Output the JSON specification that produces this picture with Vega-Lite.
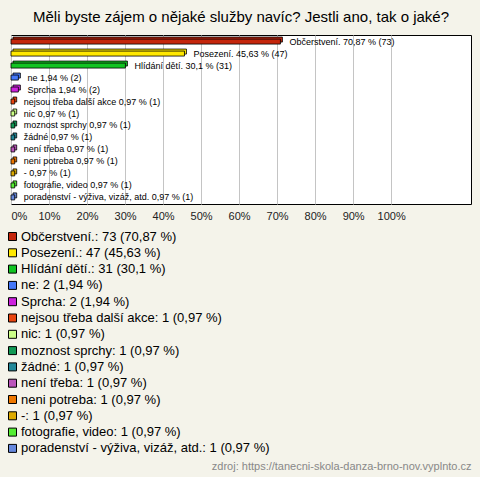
{
  "$schema": "https://vega.github.io/schema/vega-lite/v6.json",
  "autosize": "none",
  "width": 460,
  "height": 169,
  "padding": {"left": 11, "top": 35, "right": 9, "bottom": 273},
  "background": "#f4f3ea",
  "title": {"text": "Měli byste zájem o nějaké služby navíc? Jestli ano, tak o jaké?", "fontSize": 15, "fontWeight": "normal", "color": "#000000", "offset": 10, "anchor": "middle"},
  "config": {
    "font": "Liberation Sans",
    "view": {"fill": "#ffffff", "stroke": "#000000", "strokeWidth": 1}
  },
  "data": {"values": [
    {"order": 1, "cat": "Občerstvení.", "pct": 70.87, "legend": "Občerstvení.: 73 (70,87 %)", "barLabel": "Občerstvení. 70,87 % (73)"},
    {"order": 2, "cat": "Posezení.", "pct": 45.63, "legend": "Posezení.: 47 (45,63 %)", "barLabel": "Posezení. 45,63 % (47)"},
    {"order": 3, "cat": "Hlídání dětí.", "pct": 30.1, "legend": "Hlídání dětí.: 31 (30,1 %)", "barLabel": "Hlídání dětí. 30,1 % (31)"},
    {"order": 4, "cat": "ne", "pct": 1.94, "legend": "ne: 2 (1,94 %)", "barLabel": "ne 1,94 % (2)"},
    {"order": 5, "cat": "Sprcha", "pct": 1.94, "legend": "Sprcha: 2 (1,94 %)", "barLabel": "Sprcha 1,94 % (2)"},
    {"order": 6, "cat": "nejsou třeba další akce", "pct": 0.97, "legend": "nejsou třeba další akce: 1 (0,97 %)", "barLabel": "nejsou třeba další akce 0,97 % (1)"},
    {"order": 7, "cat": "nic", "pct": 0.97, "legend": "nic: 1 (0,97 %)", "barLabel": "nic 0,97 % (1)"},
    {"order": 8, "cat": "moznost sprchy", "pct": 0.97, "legend": "moznost sprchy: 1 (0,97 %)", "barLabel": "moznost sprchy 0,97 % (1)"},
    {"order": 9, "cat": "žádné", "pct": 0.97, "legend": "žádné: 1 (0,97 %)", "barLabel": "žádné 0,97 % (1)"},
    {"order": 10, "cat": "není třeba", "pct": 0.97, "legend": "není třeba: 1 (0,97 %)", "barLabel": "není třeba 0,97 % (1)"},
    {"order": 11, "cat": "neni potreba", "pct": 0.97, "legend": "neni potreba: 1 (0,97 %)", "barLabel": "neni potreba 0,97 % (1)"},
    {"order": 12, "cat": "-", "pct": 0.97, "legend": "-: 1 (0,97 %)", "barLabel": "- 0,97 % (1)"},
    {"order": 13, "cat": "fotografie, video", "pct": 0.97, "legend": "fotografie, video: 1 (0,97 %)", "barLabel": "fotografie, video 0,97 % (1)"},
    {"order": 14, "cat": "poradenství - výživa, vizáž, atd.", "pct": 0.97, "legend": "poradenství - výživa, vizáž, atd.: 1 (0,97 %)", "barLabel": "poradenství - výživa, vizáž, atd. 0,97 % (1)"}
  ]},
  "encoding": {
    "y": {"field": "cat", "type": "nominal", "sort": {"field": "order", "op": "min", "order": "ascending"}, "axis": null, "scale": {"paddingOuter": 0.1}},
    "x": {"field": "pct", "type": "quantitative", "scale": {"domain": [0, 121], "nice": false},
      "axis": {"values": [0, 10, 20, 30, 40, 50, 60, 70, 80, 90, 100], "labelExpr": "datum.value + '%'", "labelFontSize": 11, "labelColor": "#222222", "labelPadding": 6, "labelFlush": true, "ticks": false, "domain": false, "grid": true, "gridColor": "#c4c4c4", "gridWidth": 1,
        "title": "zdroj: https://tanecni-skola-danza-brno-nov.vyplnto.cz", "titleFontSize": 11, "titleFontWeight": "normal", "titleColor": "#888888", "titleAlign": "right", "titleAnchor": "end", "titleX": 460, "titleY": 262, "titleBaseline": "middle"}},
    "color": {"field": "legend", "type": "nominal",
      "scale": {"domain": ["Občerstvení.: 73 (70,87 %)", "Posezení.: 47 (45,63 %)", "Hlídání dětí.: 31 (30,1 %)", "ne: 2 (1,94 %)", "Sprcha: 2 (1,94 %)", "nejsou třeba další akce: 1 (0,97 %)", "nic: 1 (0,97 %)", "moznost sprchy: 1 (0,97 %)", "žádné: 1 (0,97 %)", "není třeba: 1 (0,97 %)", "neni potreba: 1 (0,97 %)", "-: 1 (0,97 %)", "fotografie, video: 1 (0,97 %)", "poradenství - výživa, vizáž, atd.: 1 (0,97 %)"],
        "range": ["#c4260c", "#ffe800", "#11c422", "#4477f8", "#cc22dd", "#e84510", "#ccff88", "#119955", "#228899", "#bb55bb", "#ee7700", "#ddaa00", "#55ee33", "#6688dd"]},
      "legend": {"orient": "none", "legendX": -5, "legendY": 195, "title": null, "symbolType": "square", "symbolSize": 64, "symbolStrokeColor": "#000000", "symbolStrokeWidth": 1, "symbolOpacity": 1, "labelFontSize": 13, "labelColor": "#000000", "labelOffset": 2, "rowPadding": 2.3, "padding": 0, "labelLimit": 400}}
  },
  "layer": [
    {
      "mark": {"type": "bar", "size": 5, "stroke": "#000000", "strokeWidth": 0.8, "xOffset": 2, "x2Offset": 2, "yOffset": -2, "y2Offset": -2}
    },
    {
      "mark": {"type": "bar", "size": 5, "stroke": "#000000", "strokeWidth": 0.8}
    },
    {
      "mark": {"type": "text", "align": "left", "baseline": "middle", "dx": 9, "fontSize": 9},
      "encoding": {"text": {"field": "barLabel"}, "color": {"value": "#000000"}}
    }
  ]
}
